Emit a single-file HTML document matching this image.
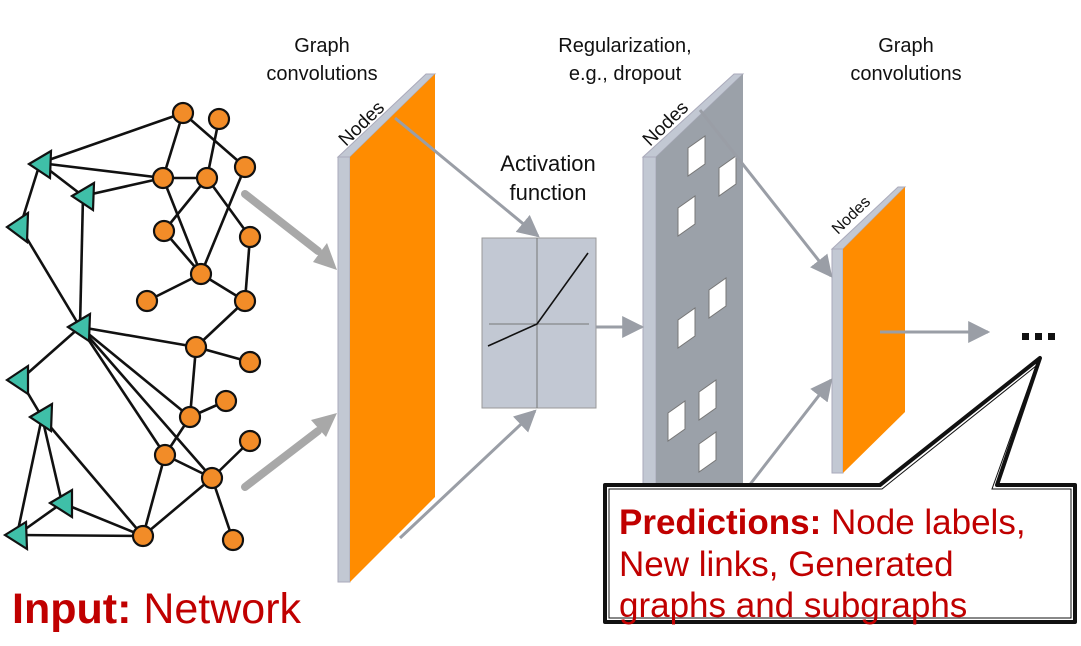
<!DOCTYPE html>
<html><head><meta charset="utf-8"><style>
body{margin:0;background:#fff}
svg{display:block}
text{font-family:"Liberation Sans",sans-serif}
</style></head><body>
<svg width="1081" height="646" viewBox="0 0 1081 646" xmlns="http://www.w3.org/2000/svg">
<defs>
<marker id="ahs" viewBox="0 0 10 10" refX="9" refY="5" markerWidth="22" markerHeight="22" orient="auto" markerUnits="userSpaceOnUse"><path d="M0,0 L10,5 L0,10 z" fill="#9a9ea6"/></marker>
</defs>

<g font-size="20" fill="#111" text-anchor="middle">
<text x="322" y="52">Graph</text><text x="322" y="80">convolutions</text>
<text x="625" y="52">Regularization,</text><text x="625" y="80">e.g., dropout</text>
<text x="906" y="52">Graph</text><text x="906" y="80">convolutions</text>
</g>
<g font-size="22" fill="#111" text-anchor="middle">
<text x="548" y="171">Activation</text><text x="548" y="200">function</text>
</g>

<g stroke="#111" stroke-width="2.6" fill="none">
<line x1="183" y1="113" x2="40" y2="163"/>
<line x1="183" y1="113" x2="163" y2="178"/>
<line x1="183" y1="113" x2="245" y2="167"/>
<line x1="219" y1="119" x2="207" y2="178"/>
<line x1="163" y1="178" x2="207" y2="178"/>
<line x1="163" y1="178" x2="40" y2="163"/>
<line x1="163" y1="178" x2="83" y2="196"/>
<line x1="40" y1="163" x2="83" y2="196"/>
<line x1="40" y1="163" x2="20" y2="227"/>
<line x1="20" y1="227" x2="80" y2="327"/>
<line x1="83" y1="196" x2="80" y2="327"/>
<line x1="207" y1="178" x2="164" y2="231"/>
<line x1="207" y1="178" x2="250" y2="237"/>
<line x1="163" y1="178" x2="201" y2="274"/>
<line x1="245" y1="167" x2="201" y2="274"/>
<line x1="164" y1="231" x2="201" y2="274"/>
<line x1="201" y1="274" x2="147" y2="301"/>
<line x1="201" y1="274" x2="245" y2="301"/>
<line x1="250" y1="237" x2="245" y2="301"/>
<line x1="245" y1="301" x2="196" y2="347"/>
<line x1="80" y1="327" x2="196" y2="347"/>
<line x1="196" y1="347" x2="250" y2="362"/>
<line x1="196" y1="347" x2="190" y2="417"/>
<line x1="190" y1="417" x2="226" y2="401"/>
<line x1="80" y1="327" x2="190" y2="417"/>
<line x1="80" y1="327" x2="165" y2="455"/>
<line x1="80" y1="327" x2="212" y2="478"/>
<line x1="80" y1="327" x2="20" y2="380"/>
<line x1="20" y1="380" x2="42" y2="417"/>
<line x1="190" y1="417" x2="165" y2="455"/>
<line x1="165" y1="455" x2="212" y2="478"/>
<line x1="212" y1="478" x2="250" y2="441"/>
<line x1="212" y1="478" x2="233" y2="540"/>
<line x1="165" y1="455" x2="143" y2="536"/>
<line x1="212" y1="478" x2="143" y2="536"/>
<line x1="42" y1="417" x2="62" y2="503"/>
<line x1="42" y1="417" x2="17" y2="535"/>
<line x1="42" y1="417" x2="143" y2="536"/>
<line x1="62" y1="503" x2="143" y2="536"/>
<line x1="62" y1="503" x2="17" y2="535"/>
<line x1="17" y1="535" x2="143" y2="536"/>
</g>
<g fill="#f28c28" stroke="#111" stroke-width="2.2">
<circle cx="183" cy="113" r="10"/><circle cx="219" cy="119" r="10"/><circle cx="245" cy="167" r="10"/>
<circle cx="163" cy="178" r="10"/><circle cx="207" cy="178" r="10"/><circle cx="164" cy="231" r="10"/>
<circle cx="250" cy="237" r="10"/><circle cx="201" cy="274" r="10"/><circle cx="147" cy="301" r="10"/>
<circle cx="245" cy="301" r="10"/><circle cx="196" cy="347" r="10"/><circle cx="250" cy="362" r="10"/>
<circle cx="226" cy="401" r="10"/><circle cx="190" cy="417" r="10"/><circle cx="250" cy="441" r="10"/>
<circle cx="165" cy="455" r="10"/><circle cx="212" cy="478" r="10"/><circle cx="143" cy="536" r="10"/>
<circle cx="233" cy="540" r="10"/>
</g>
<g fill="#3fbfa8" stroke="#111" stroke-width="2.2">
<path d="M29,164 L51,151 L50,178 z"/>
<path d="M72,196 L94,183 L93,210 z"/>
<path d="M7,227 L28,213 L27,242 z"/>
<path d="M68,327 L90,314 L89,341 z"/>
<path d="M7,380 L28,366 L28,394 z"/>
<path d="M30,417 L52,404 L51,431 z"/>
<path d="M50,503 L72,490 L72,517 z"/>
<path d="M5,535 L26,522 L27,549 z"/>
</g>

<g stroke="#a8a8a8" stroke-width="8" stroke-linecap="round">
<line x1="245" y1="194" x2="318" y2="251"/>
<line x1="245" y1="487" x2="318" y2="431"/>
</g>
<path d="M337,270 L313,262 L327,243 z" fill="#a8a8a8"/>
<path d="M337,413 L326,437 L311,420 z" fill="#a8a8a8"/>

<polygon points="338,157 426,74 435,74 350,157" fill="#c2c8d3" stroke="#aab" stroke-width="1"/>
<polygon points="338,157 350,157 350,582 338,582" fill="#c2c8d3" stroke="#aab" stroke-width="1"/>
<polygon points="350,157 435,74 435,497 350,582" fill="#ff8c00"/>
<text x="0" y="0" font-size="19" fill="#111" transform="translate(346,147) rotate(-44)">Nodes</text>

<polygon points="643,157 734,74 743,74 656,157" fill="#c2c8d3" stroke="#aab" stroke-width="1"/>
<polygon points="643,157 656,157 656,490 643,490" fill="#c2c8d3" stroke="#aab" stroke-width="1"/>
<polygon points="656,157 743,74 743,490 656,490" fill="#9ba1a9"/>
<text x="0" y="0" font-size="19" fill="#111" transform="translate(650,147) rotate(-44)">Nodes</text>
<g fill="#fff" stroke="#777" stroke-width="1">
<polygon points="688,148 705,136 705,164 688,176"/>
<polygon points="719,168 736,156 736,184 719,196"/>
<polygon points="678,208 695,196 695,224 678,236"/>
<polygon points="709,290 726,278 726,306 709,318"/>
<polygon points="678,320 695,308 695,336 678,348"/>
<polygon points="699,392 716,380 716,408 699,420"/>
<polygon points="668,413 685,401 685,429 668,441"/>
<polygon points="699,444 716,432 716,460 699,472"/>
</g>

<rect x="482" y="238" width="114" height="170" fill="#c2c8d3" stroke="#999" stroke-width="1"/>
<line x1="537" y1="238" x2="537" y2="408" stroke="#777" stroke-width="1"/>
<line x1="489" y1="324" x2="589" y2="324" stroke="#777" stroke-width="1"/>
<polyline points="488,346 537,324 588,253" fill="none" stroke="#111" stroke-width="1.6"/>

<polygon points="832,249 898,187 905,187 843,249" fill="#c2c8d3" stroke="#aab" stroke-width="1"/>
<polygon points="832,249 843,249 843,473 832,473" fill="#c2c8d3" stroke="#aab" stroke-width="1"/>
<polygon points="843,249 905,187 905,412 843,473" fill="#ff8c00"/>
<text x="0" y="0" font-size="16" fill="#111" transform="translate(838,235) rotate(-44)">Nodes</text>

<g stroke="#9a9ea6" stroke-width="3" fill="none">
<line x1="395" y1="118" x2="538" y2="236" marker-end="url(#ahs)"/>
<line x1="400" y1="538" x2="535" y2="411" marker-end="url(#ahs)"/>
<line x1="596" y1="327" x2="642" y2="327" marker-end="url(#ahs)"/>
<line x1="700" y1="110" x2="831" y2="276" marker-end="url(#ahs)"/>
<line x1="748" y1="487" x2="831" y2="380" marker-end="url(#ahs)"/>
<line x1="880" y1="332" x2="988" y2="332" marker-end="url(#ahs)"/>
</g>

<g fill="#111"><rect x="1022" y="333" width="7" height="7"/><rect x="1035" y="333" width="7" height="7"/><rect x="1048" y="333" width="7" height="7"/></g>

<path d="M605,485 L880,485 L1040,358 L997,485 L1075,485 L1075,622 L605,622 z" fill="#fff" stroke="#111" stroke-width="4" stroke-linejoin="round"/>
<path d="M609,489 L882,489 L1036,366 L992,489 L1071,489 L1071,618 L609,618 z" fill="none" stroke="#111" stroke-width="1"/>
<g font-size="35" fill="#c00000">
<text x="619" y="534"><tspan font-weight="bold">Predictions:</tspan> Node labels,</text>
<text x="619" y="576">New links, Generated</text>
<text x="619" y="617">graphs and subgraphs</text>
</g>

<text x="12" y="623" font-size="43" fill="#c00000"><tspan font-weight="bold">Input:</tspan> Network</text>
</svg>
</body></html>
